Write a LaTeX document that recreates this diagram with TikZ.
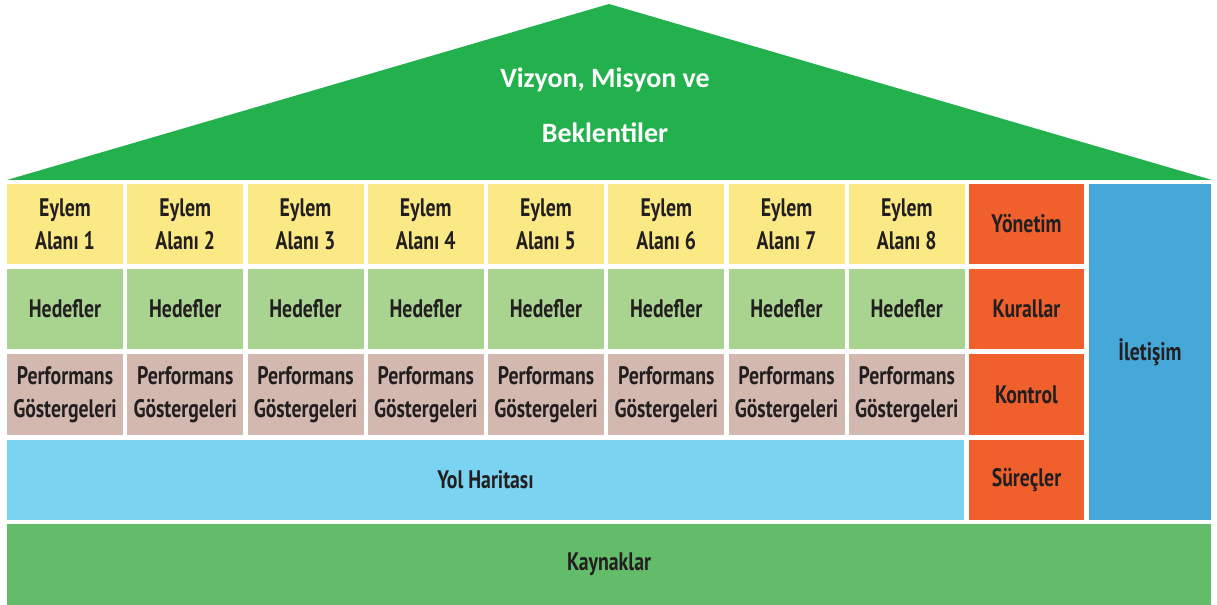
\documentclass[tikz,border=0pt]{standalone}
\usepackage{fontspec}
\setmainfont{Carlito}
\newfontfamily\boxfont[FakeStretch=0.78]{PT Sans}
\definecolor{roofgreen}{HTML}{22B14C}
\definecolor{ylw}{HTML}{FBE985}
\definecolor{lgreen}{HTML}{A9D490}
\definecolor{rose}{HTML}{D3B8B0}
\definecolor{lblue}{HTML}{7BD3F2}
\definecolor{kgreen}{HTML}{63BC6A}
\definecolor{orng}{HTML}{F0602D}
\definecolor{dblue}{HTML}{46A7D9}
\definecolor{txt}{HTML}{231F20}
\tikzset{
  cell/.style={draw=none, inner sep=0pt, outer sep=0pt, align=center,
    font=\boxfont\bfseries\fontsize{19}{24.75}\selectfont, text=txt,
    minimum width=87pt, minimum height=60pt},
  eylem/.style={cell, fill=ylw},
  hedef/.style={cell, fill=lgreen},
  perf/.style={cell, fill=rose, minimum height=60.75pt},
  side/.style={cell, fill=orng, minimum width=86.25pt},
}
\begin{document}
\begin{tikzpicture}[x=0.75pt,y=-0.75pt]
\useasboundingbox (0,0) rectangle (1217,605);
\fill[white] (0,0) rectangle (1217,605);
% roof
\fill[roofgreen] (7,180) -- (609,4) -- (1212,180) -- cycle;
\node[font=\bfseries\fontsize{21}{41}\selectfont, text=white, align=center] (roof) at (605,105) {Vizyon, Misyon ve\\Beklentiler};
% columns
\foreach \k in {1,...,8}{
  \pgfmathsetmacro{\cx}{65+120.25*(\k-1)}
  \node[eylem] (e\k) at (\cx,224) {Eylem\\Alanı \k};
  \node[hedef] (h\k) at (\cx,309) {Hedefler};
  \node[perf] (p\k) at (\cx,394.5) {Performans\\Göstergeleri};
}
% side column
\node[side] (yon) at (1026.5,224) {Yönetim};
\node[side] (kur) at (1026.5,309) {Kurallar};
\node[side, minimum height=60.75pt] (kon) at (1026.5,394.5) {Kontrol};
\node[side] (sur) at (1026.5,480) {Süreçler};
% communication
\node[cell, fill=dblue, minimum width=91.5pt, minimum height=252pt] (ilt) at (1150,352) {İletişim};
% road map
\node[cell, fill=lblue, minimum width=717.75pt] (yol) at (485.5,480) {Yol Haritası};
% resources
\node[cell, fill=kgreen, minimum width=903pt, minimum height=60.75pt] (kay) at (609,564.5) {Kaynaklar};
\end{tikzpicture}
\end{document}
